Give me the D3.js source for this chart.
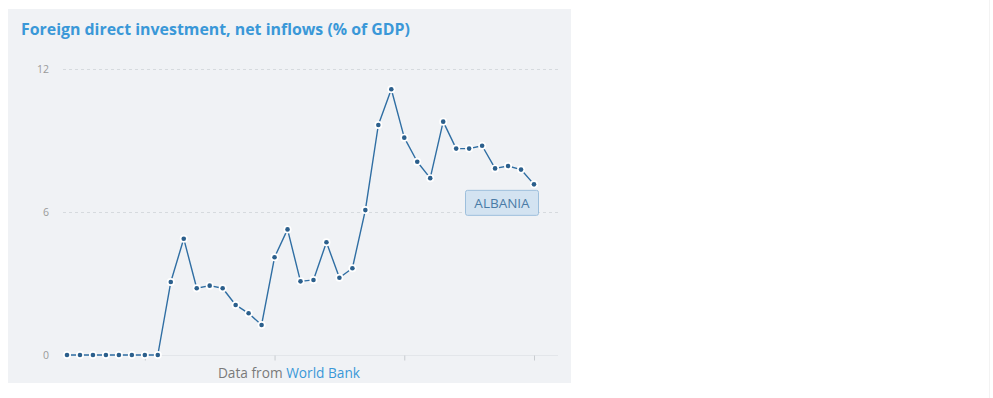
<!DOCTYPE html>
<html>
<head>
<meta charset="utf-8">
<script src="https://cdn.jsdelivr.net/npm/d3@7"></script>
<style>
  body { margin: 0; background: #fff; font-family: "Open Sans", sans-serif; }
</style>
</head>
<body>
<div class="chart"></div>
<script>
// data (Albania, % of GDP)
var years = d3.range(1984, 2021);
var values = [0, 0, 0, 0, 0, 0, 0, 0,
  3.06, 4.88, 2.80, 2.91, 2.80, 2.10, 1.75, 1.26,
  4.10, 5.27, 3.09, 3.15, 4.73, 3.24, 3.64, 6.08,
  9.65, 11.15, 9.12, 8.11, 7.42, 9.79, 8.66, 8.66,
  8.78, 7.83, 7.93, 7.78, 7.16];
var yTicks = [0, 6, 12];
var xTicks = [1990, 2000, 2010, 2020];
var seriesName = "ALBANIA";

var data = years.map((y, i) => ({year: y, value: values[i]}));

var width = 993, height = 398;

var svg = d3.select(".chart").append("svg")
  .attr("width", width)
  .attr("height", height);

// panel background
svg.append("rect")
  .attr("x", 8).attr("y", 9)
  .attr("width", 563).attr("height", 374)
  .attr("fill", "#f0f2f5");

// faint right edge line
svg.append("line")
  .attr("x1", 989.5).attr("x2", 989.5)
  .attr("y1", 0).attr("y2", 398)
  .attr("stroke", "#f3f3f3");

svg.append("text")
  .attr("x", 21).attr("y", 35)
  .attr("font-size", "15.9px")
  .attr("font-weight", "bold")
  .attr("fill", "#3a98d8")
  .text("Foreign direct investment, net inflows (% of GDP)");

var x = d3.scaleLinear().domain([1984, 2020]).range([67, 534]);
var y = d3.scaleLinear().domain([0, 12]).range([355, 69]);

//gridlines + y labels
var grid = svg.append("g");
yTicks.forEach(function(t) {
  if (t > 0) {
    grid.append("line")
      .attr("x1", 63).attr("x2", 558)
      .attr("y1", y(t) + 0.5).attr("y2", y(t) + 0.5)
      .attr("stroke", "#d6dade")
      .attr("stroke-dasharray", "3,3");
  }
  grid.append("text")
    .attr("x", 49).attr("y", y(t) + 4)
    .attr("text-anchor", "end")
    .attr("font-size", "10.5px")
    .attr("fill", "#9a9a9a")
    .text(t);
});

// baseline with ticks, no labels
var xAxis = svg.append("g")
  .attr("transform", "translate(0," + (y(0) + 0.5) + ")")
  .call(d3.axisBottom(x).tickValues(xTicks).tickSize(5).tickSizeOuter(0).tickFormat(""));
xAxis.select(".domain").attr("stroke", "#e3e6ea").attr("d", "M63,0H558");
xAxis.selectAll(".tick line").attr("stroke", "#c8ccd0");

var line = d3.line()
  .x(d => x(d.year))
  .y(d => y(d.value));

svg.append("path")
  .datum(data)
  .attr("fill", "none")
  .attr("stroke", "#2f6ea3")
  .attr("stroke-width", 1.4)
  .attr("stroke-linejoin", "round")
  .attr("d", line);

// white halo under each point
svg.append("g").selectAll("circle")
  .data(data)
  .enter().append("circle")
  .attr("cx", d => x(d.year))
  .attr("cy", d => y(d.value))
  .attr("r", 4)
  .attr("fill", "#fff");

svg.append("g").selectAll("circle")
  .data(data)
  .enter().append("circle")
  .attr("cx", d => x(d.year))
  .attr("cy", d => y(d.value))
  .attr("r", 2.3)
  .attr("fill", "#2b5f8c");

// series label
var last = data[data.length - 1];
var lab = svg.append("g")
  .attr("transform", "translate(" + (x(last.year) - 35) + "," + (y(last.value) + 5.5) + ")");
lab.append("rect")
  .attr("x", -33.5).attr("y", 0.5)
  .attr("width", 73).attr("height", 25)
  .attr("rx", 2)
  .attr("fill", "#d3e3f1")
  .attr("stroke", "#9dbfdc");
lab.append("text")
  .attr("x", 3).attr("y", 18)
  .attr("text-anchor", "middle")
  .attr("font-size", "13.5px")
  .attr("fill", "#4a7ba6")
  .text(seriesName);

// source line
var src = svg.append("text")
  .attr("x", 289).attr("y", 378)
  .attr("text-anchor", "middle")
  .attr("font-size", "13.7px");
src.append("tspan").attr("fill", "#7a7a7a").text("Data from ");
src.append("tspan").attr("fill", "#3a98d8").text("World Bank");
</script>
</body>
</html>
